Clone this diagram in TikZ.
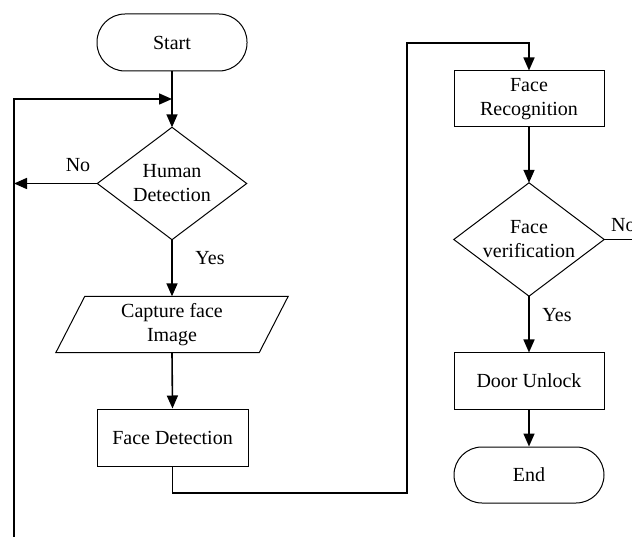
\documentclass[tikz,border=0pt]{standalone}
\usepackage{fontspec}
\setmainfont{Liberation Serif}
\usetikzlibrary{arrows.meta,shapes.geometric,calc}
\begin{document}
\begin{tikzpicture}[x=1pt,y=-1pt,
  every node/.style={font=\fontsize{20}{24}\selectfont, align=center, inner sep=0pt},
  term/.style={draw, line width=1pt, rounded corners=28pt, minimum width=150pt, minimum height=57pt},
  procbox/.style={draw, line width=1pt, minimum width=150pt, minimum height=56pt},
  decision/.style={minimum width=149pt, minimum height=112pt},
  dline/.style={line width=1pt},
  conn/.style={line width=1.6pt},
  arr/.style={conn, -{Triangle[length=13pt,width=11pt]}},
  lbl/.style={font=\fontsize{20}{24}\selectfont}
]
\useasboundingbox (0,0) rectangle (632,537);
\clip (0,0) rectangle (632,537);

\node[term] (start) at (172,42.5) {Start};
\node[decision] (hd) at (172,183.5) {Human\\Detection};
\draw[dline] (hd.north) -- (hd.east) -- (hd.south) -- (hd.west) -- cycle;
\node[minimum width=203pt, minimum height=56pt] (cap) at (172,324.5) {Capture face\\Image};
\draw[dline] ($(cap.north west)+(14.5,0)$) -- ($(cap.north east)+(14.5,0)$)
  -- ($(cap.south east)+(-14.5,0)$) -- ($(cap.south west)+(-14.5,0)$) -- cycle;
\node[procbox, minimum width=151pt, minimum height=57pt] (fd) at (172.5,437.5) {Face Detection};

\node[procbox] (fr) at (529,99) {Face\\Recognition};
\node[decision, minimum width=150pt, minimum height=113pt] (fv) at (529,239.5) {Face\\verification};
\draw[dline] (fv.north) -- (fv.east) -- (fv.south) -- (fv.west) -- cycle;
\node[procbox] (du) at (529,381) {Door Unlock};
\node[term, minimum height=56pt] (en) at (529,475) {End};

\coordinate (lb) at (14,545);
\coordinate (lt) at (14,99);
\coordinate (lm) at (14,183.5);
\coordinate (c1) at (407,493);
\coordinate (c2) at (407,43);
\coordinate (re) at (645,239.5);

% main column
\draw[arr] (start.south) -- (hd.north);
\draw[arr] (lb) -- (lt) -- (lt -| start.south);
\draw[arr] (hd.west) -- (lm);
\node[lbl] (no1) at (78,165) {No};
\draw[arr] (hd.south) -- (cap.north);
\node[lbl] (yes1) at (210,258) {Yes};
\draw[arr] (cap.south) -- (fd.north);

% link to right column
\draw[arr] (fd.south) |- (c1) -- (c2) -| (fr.north);

% right column
\draw[arr] (fr.south) -- (fv.north);
\draw[conn] (fv.east) -- (re);
\node[lbl, anchor=west] (no2) at (611,225) {No};
\draw[arr] (fv.south) -- (du.north);
\node[lbl] (yes2) at (557,315) {Yes};
\draw[arr] (du.south) -- (en.north);
\end{tikzpicture}
\end{document}
